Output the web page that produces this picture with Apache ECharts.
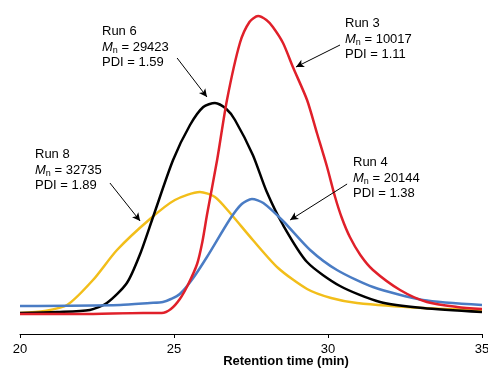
<!DOCTYPE html>
<html>
<head>
<meta charset="utf-8">
<script src="https://cdn.jsdelivr.net/npm/echarts@6/dist/echarts.min.js"></script>
<style>
  html, body { margin: 0; padding: 0; background: #fff; }
  #chart { width: 488px; height: 369px; }
</style>
</head>
<body>
<div id="chart"></div>
<script>
// GPC traces: [retention time (min), detector response (a.u.)]
const run3 = [
    [20, 20], [22, 20], [24, 21], [24.6, 21], [24.9, 25], [25.19, 35], [25.45, 49],
    [25.75, 70], [25.92, 92], [26.07, 119], [26.40, 174], [26.72, 234], [27.14, 291], [27.45, 312],
    [27.73, 318], [28.0, 314], [28.21, 307], [28.54, 291], [28.86, 267], [29.32, 234],
    [29.64, 201], [29.97, 167], [30.23, 137], [30.45, 116], [30.71, 97], [31.05, 79],
    [31.46, 64], [32.34, 44], [33.21, 32], [34.19, 27], [35, 25]
];
const run6 = [
    [20, 21], [21.2, 22], [22.27, 24], [22.82, 31], [23.47, 51], [23.9, 80], [24.32, 117],
    [24.97, 174], [25.52, 209], [25.95, 227], [26.33, 231], [26.7, 225], [26.98, 214],
    [27.56, 179], [28.0, 143], [28.54, 109], [29.32, 72], [30.39, 48], [31.69, 32],
    [33.08, 26], [35, 22]
];
const run8 = [
    [20, 21], [20.8, 23], [21.53, 29], [22.37, 54], [23.15, 84], [24.22, 115],
    [25.03, 134], [25.84, 142], [26.33, 137], [26.82, 121], [27.56, 94], [28.38, 66],
    [29.32, 45], [30.1, 36], [30.94, 31], [33.08, 26], [35, 24]
];
const run4 = [
    [20, 28], [23.25, 29], [24.22, 31], [24.64, 32], [24.9, 35], [25.19, 40], [25.6, 55],
    [26.07, 77], [26.82, 115], [27.2, 130], [27.53, 135], [27.9, 131], [28.54, 113],
    [29.42, 84], [30.29, 64], [31.46, 47], [33.08, 34], [35, 29]
];

// annotation arrows: [from, to] in data coordinates
const arrows = [
    [[25.10, 276], [26.07, 237]],   // Run 6
    [[30.39, 289], [28.96, 267]],   // Run 3
    [[22.92, 151], [23.90, 113]],   // Run 8
    [[30.62, 150], [28.77, 114]]    // Run 4
];

const labels = [
    { run: 'Run 6', mn: '29423', pdi: '1.59', x: 102, y: 24 },
    { run: 'Run 3', mn: '10017', pdi: '1.11', x: 345, y: 16 },
    { run: 'Run 8', mn: '32735', pdi: '1.89', x: 35, y: 147 },
    { run: 'Run 4', mn: '20144', pdi: '1.38', x: 353, y: 155 }
];

var chart = echarts.init(document.getElementById('chart'));

const lineSeries = (name, data, color) => ({
    name: name,
    type: 'line',
    data: data,
    smooth: 0.25,
    showSymbol: false,
    lineStyle: { color: color, width: 2.5 },
    z: 3
});

const option = {
    animation: false,
    grid: { left: 20, right: 6, top: 10, bottom: 35, outerBoundsMode: 'none' },
    xAxis: {
        type: 'value',
        min: 20,
        max: 35,
        interval: 5,
        name: 'Retention time (min)',
        nameLocation: 'middle',
        nameGap: 21,
        nameMoveOverlap: false,
        nameTextStyle: {
            fontFamily: 'Liberation Sans', fontSize: 13, fontWeight: 'bold',
            color: '#000', padding: [0, 0, 0, 70]
        },
        axisLine: { lineStyle: { color: '#000', width: 1 } },
        axisTick: { length: 4, lineStyle: { color: '#000' } },
        axisLabel: { fontFamily: 'Liberation Sans', fontSize: 13, color: '#000', margin: 9 },
        splitLine: { show: false }
    },
    yAxis: {
        type: 'value',
        min: 0,
        max: 324,
        show: false
    },
    series: [
        lineSeries('Run 8', run8, '#f2be1a'),
        lineSeries('Run 6', run6, '#000000'),
        lineSeries('Run 4', run4, '#4a7cc4'),
        lineSeries('Run 3', run3, '#e0202a'),
        {
            type: 'line',
            data: [],
            markLine: {
                silent: true,
                symbol: ['none', 'arrow'],
                symbolSize: [6, 8],
                label: { show: false },
                lineStyle: { color: '#000', width: 1, type: 'solid' },
                data: arrows.map(a => [{ coord: a[0] }, { coord: a[1] }])
            }
        }
    ],
    graphic: labels.map(l => ({
        type: 'text',
        left: l.x,
        top: l.y,
        style: {
            text: l.run + '\n{i|M}{s|n} = ' + l.mn + '\nPDI = ' + l.pdi,
            fontFamily: 'Liberation Sans',
            fontSize: 13,
            lineHeight: 15.5,
            fill: '#000',
            rich: {
                i: { fontStyle: 'italic', fontFamily: 'Liberation Sans', fontSize: 13, lineHeight: 15.5 },
                s: { fontFamily: 'Liberation Sans', fontSize: 9, padding: [6, 0, 0, 0], lineHeight: 15.5 }
            }
        }
    }))
};

chart.setOption(option);
</script>
</body>
</html>
